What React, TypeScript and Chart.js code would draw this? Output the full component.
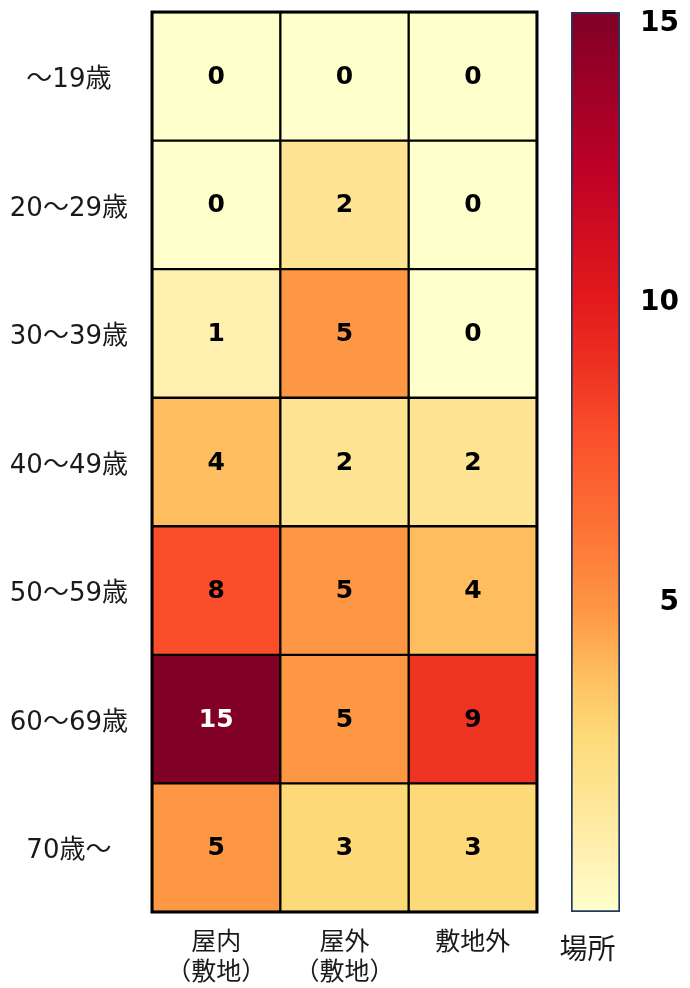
import React, { useEffect, useRef } from 'react';
import { Chart, registerables } from 'chart.js';

Chart.register(...registerables);

// ---- data ----
const ROW_LABELS = ['～19歳', '20～29歳', '30～39歳', '40～49歳', '50～59歳', '60～69歳', '70歳～'];
const COL_LABELS: string[][] = [['屋内', '（敷地）'], ['屋外', '（敷地）'], ['敷地外']];
const VAL_INDOOR = [0, 0, 1, 4, 8, 15, 5];
const VAL_OUTDOOR = [0, 2, 5, 2, 5, 5, 3];
const VAL_OFFSITE = [0, 0, 0, 2, 4, 9, 3];
const COLUMN_VALUES = [VAL_INDOOR, VAL_OUTDOOR, VAL_OFFSITE];
const COLOR_MIN = 0;
const COLOR_MAX = 15;
const COLORBAR_TICKS = [5, 10, 15];
const COLORBAR_TITLE = '場所';
// colour scale stops (value -> colour), YlOrRd-like
const SCALE_VALUES = [0, 1, 2, 3, 4, 5, 6.5, 8, 9, 10.2, 12.4, 15];
const SCALE_COLORS = ['#ffffcc', '#fff0b0', '#fee492', '#fed977', '#febd5e', '#fe9744', '#fd7035', '#fa4e2a', '#ee3323', '#e31a1c', '#bd0026', '#800026'];

const FONT = '"DejaVu Sans", "Noto Sans CJK JP", sans-serif';
const TEXT_COLOR = '#1a1a1a';

function hexToRgb(h: string): number[] {
  const n = parseInt(h.slice(1), 16);
  return [(n >> 16) & 255, (n >> 8) & 255, n & 255];
}

function colorFor(v: number): string {
  if (v <= SCALE_VALUES[0]) return SCALE_COLORS[0];
  for (let i = 1; i < SCALE_VALUES.length; i++) {
    if (v <= SCALE_VALUES[i]) {
      const t = (v - SCALE_VALUES[i - 1]) / (SCALE_VALUES[i] - SCALE_VALUES[i - 1]);
      const a = hexToRgb(SCALE_COLORS[i - 1]);
      const b = hexToRgb(SCALE_COLORS[i]);
      const c = a.map((x, k) => Math.round(x + (b[k] - x) * t));
      return `rgb(${c[0]},${c[1]},${c[2]})`;
    }
  }
  return SCALE_COLORS[SCALE_COLORS.length - 1];
}

const cellLabelPlugin = {
  id: 'cellLabels',
  afterDatasetsDraw(chart: any) {
    const ctx = chart.ctx;
    const area = chart.chartArea;
    ctx.save();
    // outer frame
    ctx.strokeStyle = '#000';
    ctx.lineWidth = 3;
    ctx.strokeRect(area.left, area.top, area.right - area.left, area.bottom - area.top);
    ctx.font = `bold 25px ${FONT}`;
    ctx.textAlign = 'center';
    ctx.textBaseline = 'middle';
    chart.data.datasets.forEach((ds: any, di: number) => {
      const meta = chart.getDatasetMeta(di);
      const vals = COLUMN_VALUES[di];
      meta.data.forEach((el: any, i: number) => {
        const p = el.getProps(['x', 'y', 'base'], true);
        const v = vals[i];
        ctx.fillStyle = v >= 12 ? '#ffffff' : '#000000';
        ctx.fillText(String(v), (p.x + p.base) / 2, p.y + 1);
      });
    });
    ctx.restore();
  },
};

const colorbarPlugin = {
  id: 'colorbarLabels',
  afterDraw(chart: any) {
    const ctx = chart.ctx;
    const y = chart.scales.y;
    const area = chart.chartArea;
    ctx.save();
    ctx.font = `bold 28px ${FONT}`;
    ctx.fillStyle = '#000';
    ctx.textAlign = 'right';
    ctx.textBaseline = 'middle';
    COLORBAR_TICKS.forEach((t) => {
      const py = Math.max(area.top + 12, y.getPixelForValue(t) - 9);
      ctx.fillText(String(t), 134, py);
    });
    ctx.font = `28px ${FONT}`;
    ctx.fillStyle = TEXT_COLOR;
    ctx.textAlign = 'center';
    ctx.fillText(COLORBAR_TITLE, (area.left + area.right) / 2 - 8, area.bottom + 40);
    ctx.restore();
  },
};

export default function App() {
  const heatRef = useRef<HTMLCanvasElement>(null);
  const barRef = useRef<HTMLCanvasElement>(null);

  useEffect(() => {
    const heat = new Chart(heatRef.current!, {
      type: 'bar',
      data: {
        labels: ROW_LABELS,
        datasets: COLUMN_VALUES.map((vals, c) => ({
          label: COL_LABELS[c].join(''),
          data: vals.map(() => [c, c + 1]),
          backgroundColor: vals.map(colorFor),
          borderColor: '#000',
          borderWidth: 1.5,
          borderSkipped: false,
          barPercentage: 1,
          categoryPercentage: 1,
          grouped: false,
        })) as any,
      },
      options: {
        indexAxis: 'y',
        responsive: false,
        animation: false,
        layout: { padding: { top: 12, right: 8, left: 0, bottom: 0 } },
        plugins: { legend: { display: false }, tooltip: { enabled: false } },
        scales: {
          x: {
            type: 'linear',
            min: 0,
            max: 3,
            position: 'bottom',
            grid: { display: false, drawTicks: false },
            border: { display: false },
            afterBuildTicks: (s: any) => {
              s.ticks = COL_LABELS.map((_, i) => ({ value: i + 0.5 }));
            },
            afterFit: (s: any) => {
              s.height = 76;
              s.paddingLeft = 0;
              s.paddingRight = 0;
            },
            ticks: {
              autoSkip: false,
              maxRotation: 0,
              padding: 16,
              color: TEXT_COLOR,
              font: { family: FONT, size: 25, lineHeight: 1.2 },
              callback: (_v: any, i: number) => COL_LABELS[i],
            },
          },
          y: {
            type: 'category',
            grid: { display: false, drawTicks: false },
            border: { display: false },
            afterFit: (s: any) => {
              s.width = 152;
              s.paddingTop = 0;
              s.paddingBottom = 0;
            },
            ticks: {
              crossAlign: 'center',
              padding: 24,
              labelOffset: 4,
              color: TEXT_COLOR,
              font: { family: FONT, size: 26 },
            },
          },
        },
      } as any,
      plugins: [cellLabelPlugin],
    });

    const bar = new Chart(barRef.current!, {
      type: 'bar',
      data: {
        labels: [''],
        datasets: [
          {
            data: [[COLOR_MIN, COLOR_MAX]] as any,
            backgroundColor: (context: any) => {
              const ch = context.chart;
              if (!ch.chartArea) return SCALE_COLORS[0];
              const ys = ch.scales.y;
              const g = ch.ctx.createLinearGradient(0, ys.getPixelForValue(COLOR_MIN), 0, ys.getPixelForValue(COLOR_MAX));
              SCALE_VALUES.forEach((v, i) => g.addColorStop((v - COLOR_MIN) / (COLOR_MAX - COLOR_MIN), SCALE_COLORS[i]));
              return g;
            },
            borderColor: '#1f3864',
            borderWidth: 2,
            borderSkipped: false,
            barPercentage: 1,
            categoryPercentage: 1,
          },
        ],
      },
      options: {
        responsive: false,
        animation: false,
        layout: { padding: { left: 26, right: 70, top: 12, bottom: 76 } },
        plugins: { legend: { display: false }, tooltip: { enabled: false } },
        scales: {
          x: { display: false },
          y: { display: false, min: COLOR_MIN, max: COLOR_MAX },
        },
      } as any,
      plugins: [colorbarPlugin],
    });

    return () => {
      heat.destroy();
      bar.destroy();
    };
  }, []);

  return (
    <div style={{ position: 'absolute', left: 0, top: 0, width: 690, height: 988, background: '#fff' }}>
      <canvas ref={heatRef} width={545} height={988} style={{ position: 'absolute', left: 0, top: 0, width: 545, height: 988 }} />
      <canvas ref={barRef} width={145} height={988} style={{ position: 'absolute', left: 545, top: 0, width: 145, height: 988 }} />
    </div>
  );
}
